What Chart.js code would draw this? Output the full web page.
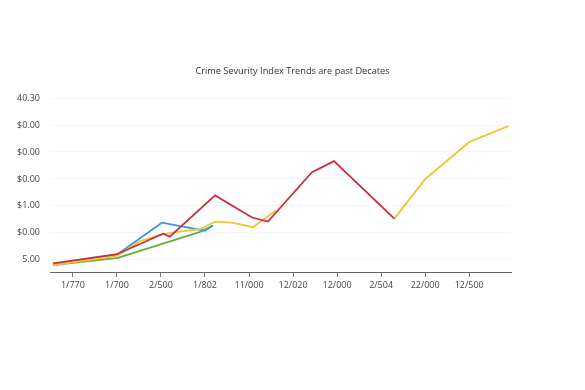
<!DOCTYPE html>
<html>
<head>
<meta charset="utf-8">
<script src="https://cdn.jsdelivr.net/npm/chart.js@4.4.1/dist/chart.umd.min.js"></script>
<style>
	html, body { margin: 0; padding: 0; background: #fff; }
	#wrap { width: 585px; height: 390px; }
</style>
</head>
<body>
<div id="wrap"><canvas id="grafico" width="585" height="390"></canvas></div>
<script>
// etichette asse x e asse y (come nel grafico originale)
var xLabels = ['1/770', '1/700', '2/500', '1/802', '11/000', '12/020', '12/000', '2/504', '22/000', '12/500'];
var yLabels = ['5.00', '$0.00', '$1.00', '$0.00', '$0.00', '$0.00', '40.30'];

// serie: posizione x (indice categoria) e valore y
var redX = [-0.45, 1.0, 2.05, 2.2, 3.23, 4.07, 4.43, 5.43, 5.93, 7.3];
var redY = [-0.13, 0.21, 0.97, 0.86, 2.39, 1.57, 1.42, 3.25, 3.66, 1.53];

var yellowX = [-0.45, 1.0, 1.52, 1.98, 2.25, 2.89, 3.23, 3.61, 4.09, 4.61, 5.5, 7.3, 8.0, 9.0, 9.89];
var yellowY = [-0.19, 0.15, 0.69, 0.93, 1.01, 1.14, 1.42, 1.38, 1.21, 1.83, null, 1.53, 2.99, 4.37, 4.96];

var blueX = [-0.45, 1.0, 2.02, 3.0, 3.18];
var blueY = [-0.19, 0.19, 1.38, 1.08, 1.27];

var greenX = [-0.45, 1.02, 2.89, 3.18];
var greenY = [-0.19, 0.07, 1.04, 1.27];

function punti(xs, ys) {
	return xs.map(function (x, i) { return { x: x, y: ys[i] }; });
}

function serie(xs, ys, colore) {
	return {
		data: punti(xs, ys),
		borderColor: colore,
		borderWidth: 1.8,
		pointRadius: 0,
		tension: 0,
		spanGaps: false,
		fill: false
	};
}

var font = { family: "'Open Sans', sans-serif", size: 9 };

var config = {
	type: 'line',
	data: {
		datasets: [
			serie(redX, redY, '#c92f40'),
			serie(yellowX, yellowY, '#f2c230'),
			serie(blueX, blueY, '#3b9ad6'),
			serie(greenX, greenY, '#5fae3e')
		]
	},
	options: {
		responsive: false,
		animation: false,
		layout: { padding: 0 },
		plugins: {
			legend: { display: false },
			tooltip: { enabled: false },
			title: {
				display: true,
				text: 'Crime Sevurity Index Trends are past Decates',
				color: '#333',
				font: { family: "'Open Sans', sans-serif", size: 9.2, weight: 'normal' },
				padding: { top: 66, bottom: 21 }
			}
		},
		scales: {
			x: {
				type: 'linear',
				min: -0.52,
				max: 9.95,
				afterBuildTicks: function (scale) {
					scale.ticks = xLabels.map(function (l, i) { return { value: i }; });
				},
				afterFit: function (scale) { scale.height = 118; },
				grid: { drawOnChartArea: false, drawTicks: true, tickLength: 5, color: '#777' },
				border: { display: true, color: '#666', width: 1 },
				ticks: {
					color: '#444',
					font: font,
					padding: 3,
					maxRotation: 0,
					autoSkip: false,
					callback: function (v) { return xLabels[Math.round(v)]; }
				}
			},
			y: {
				type: 'linear',
				min: -0.45,
				max: 6,
				afterBuildTicks: function (scale) {
					scale.ticks = yLabels.map(function (l, i) { return { value: i }; });
				},
				afterFit: function (scale) { scale.width = 50; },
				grid: { drawTicks: false, color: 'rgba(0,0,0,0.035)' },
				border: { display: false },
				ticks: {
					color: '#444',
					font: font,
					padding: 10,
					autoSkip: false,
					callback: function (v) { return yLabels[Math.round(v)]; }
				}
			},
			// asse vuoto a destra, solo per lasciare il margine bianco
			margine: {
				type: 'linear',
				position: 'right',
				afterFit: function (scale) { scale.width = 74; },
				grid: { display: false },
				border: { display: false },
				ticks: { display: false }
			}
		}
	}
};

var ctx = document.getElementById('grafico').getContext('2d');
var grafico = new Chart(ctx, config);
</script>
</body>
</html>
